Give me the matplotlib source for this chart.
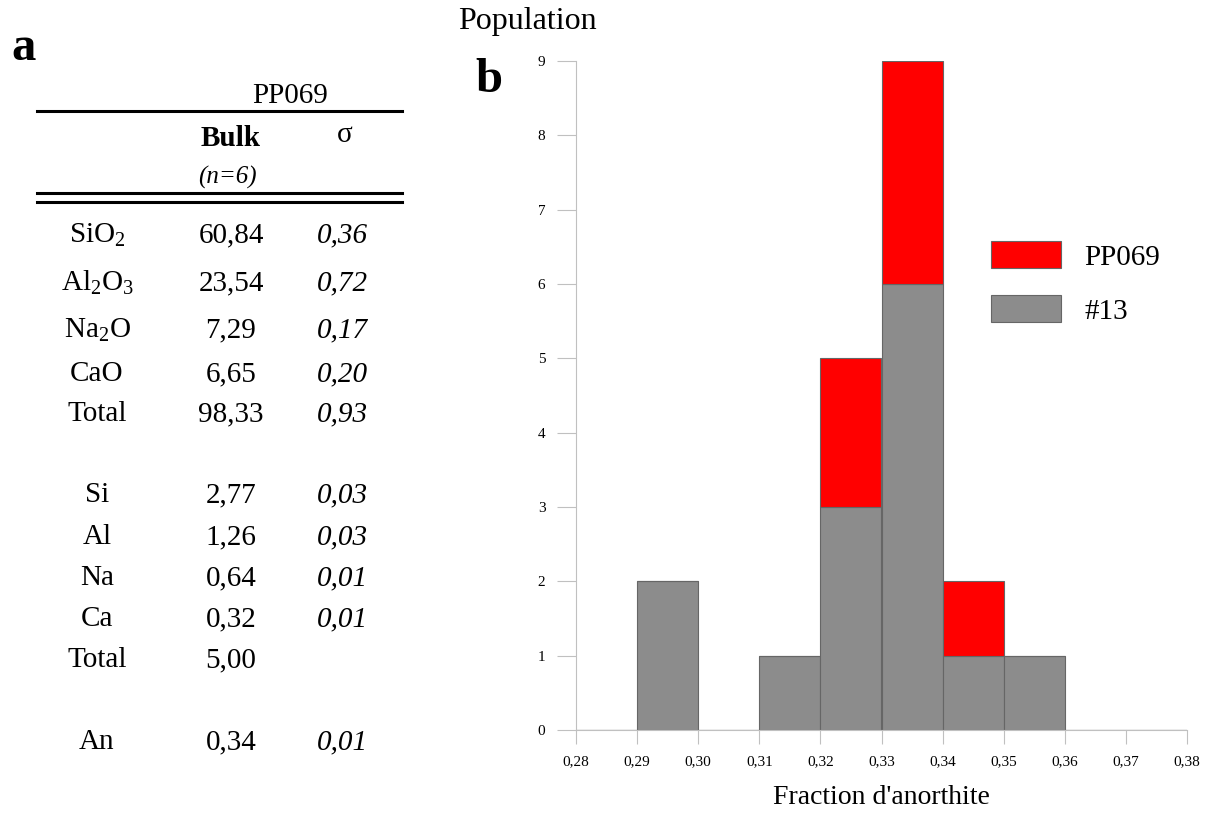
import matplotlib
matplotlib.use("Agg")
import matplotlib.pyplot as plt
from matplotlib.lines import Line2D
from matplotlib.ticker import FuncFormatter

plt.rcParams['font.family'] = ['Liberation Serif', 'DejaVu Serif']
plt.rcParams['mathtext.default'] = 'regular'

# histogram data (bins of width 0.01)
bin_left = [0.28, 0.29, 0.30, 0.31, 0.32, 0.33, 0.34, 0.35, 0.36, 0.37]
count_13 = [0, 2, 0, 1, 3, 6, 1, 1, 0, 0]
count_pp069 = [0, 0, 0, 0, 2, 3, 1, 0, 0, 0]

# table data (panel a)
oxide_names = ["SiO$_2$", "Al$_2$O$_3$", "Na$_2$O", "CaO", "Total"]
oxide_bulk = [60.84, 23.54, 7.29, 6.65, 98.33]
oxide_sigma = [0.36, 0.72, 0.17, 0.20, 0.93]
cation_names = ["Si", "Al", "Na", "Ca", "Total"]
cation_bulk = [2.77, 1.26, 0.64, 0.32, 5.00]
cation_sigma = [0.03, 0.03, 0.01, 0.01, None]
an_bulk = 0.34
an_sigma = 0.01

W, H = 1206, 816
FS = 21  # table font size


def fx(x):
    return x / W


def fy(y):
    return 1 - y / H


def fmt(v):
    return "" if v is None else f"{v:.2f}".replace(".", ",")


fig = plt.figure(figsize=(W / 100, H / 100), dpi=100)

# ---- panel a : table ----
fig.text(fx(11), fy(48), "a", fontsize=35, fontweight='bold', va='center', ha='left')
fig.text(fx(290), fy(96), "PP069", fontsize=FS, ha='center', va='center')
fig.add_artist(Line2D([fx(37), fx(402)], [fy(111), fy(111)], color='black', lw=2.2,
                      transform=fig.transFigure))
fig.text(fx(231), fy(138), "Bulk", fontsize=FS, fontweight='bold', ha='center', va='center')
fig.text(fx(345), fy(135), "σ", fontsize=FS, ha='center', va='center')
fig.text(fx(227), fy(177), "(n=6)", fontsize=18, style='italic', ha='center', va='center')
for yy in (193, 202):
    fig.add_artist(Line2D([fx(37), fx(402)], [fy(yy), fy(yy)], color='black', lw=2.2,
                          transform=fig.transFigure))

col_name, col_bulk, col_sig = 97, 231, 342
oxide_rows = [235, 283, 330, 374, 414]
for y, n, b, s in zip(oxide_rows, oxide_names, oxide_bulk, oxide_sigma):
    fig.text(fx(col_name), fy(y), n, fontsize=FS, ha='center', va='center')
    fig.text(fx(col_bulk), fy(y), fmt(b), fontsize=FS, ha='center', va='center')
    fig.text(fx(col_sig), fy(y), fmt(s), fontsize=FS, style='italic', ha='center', va='center')

cation_rows = [495, 537, 578, 619, 660]
for y, n, b, s in zip(cation_rows, cation_names, cation_bulk, cation_sigma):
    fig.text(fx(col_name), fy(y), n, fontsize=FS, ha='center', va='center')
    fig.text(fx(col_bulk), fy(y), fmt(b), fontsize=FS, ha='center', va='center')
    fig.text(fx(col_sig), fy(y), fmt(s), fontsize=FS, style='italic', ha='center', va='center')

fig.text(fx(col_name), fy(742), "An", fontsize=FS, ha='center', va='center')
fig.text(fx(col_bulk), fy(742), fmt(an_bulk), fontsize=FS, ha='center', va='center')
fig.text(fx(col_sig), fy(742), fmt(an_sigma), fontsize=FS, style='italic', ha='center', va='center')

# ---- panel b : histogram ----
fig.text(fx(475), fy(80), "b", fontsize=35, fontweight='bold', va='center', ha='left')

ax_l, ax_r, ax_b, ax_t = 576, 1187, 730, 61
ax = fig.add_axes([fx(ax_l), fy(ax_b), fx(ax_r - ax_l), (ax_b - ax_t) / H])
ax.bar(bin_left, count_13, width=0.01, align='edge', color='#8c8c8c',
       edgecolor='#666666', linewidth=0.8, label='#13')
ax.bar(bin_left, count_pp069, width=0.01, align='edge', bottom=count_13,
       color='#ff0000', edgecolor='#666666', linewidth=0.8, label='PP069')

ax.set_xlim(0.28, 0.38)
ax.set_ylim(0, 9)
ax.set_xticks([0.28 + 0.01 * i for i in range(11)])
ax.set_yticks(range(10))
ax.xaxis.set_major_formatter(FuncFormatter(lambda v, p: f"{v:.2f}".replace(".", ",")))

for side in ('top', 'right'):
    ax.spines[side].set_visible(False)
ax.spines['left'].set_color('#c0c0c0')
ax.spines['bottom'].set_color('#c0c0c0')
ax.tick_params(axis='y', length=14, color='#c0c0c0', labelsize=11, pad=8)
ax.tick_params(axis='x', length=10, color='#c0c0c0', labelsize=11, pad=8)

ax.set_xlabel("Fraction d'anorthite", fontsize=20, labelpad=12)
fig.text(fx(527), fy(22), "Population", fontsize=23, ha='center', va='center')

handles, labels = ax.get_legend_handles_labels()
ax.legend(handles[::-1], labels[::-1], loc='center left',
          bbox_to_anchor=((991 - ax_l) / (ax_r - ax_l), (ax_b - 283) / (ax_b - ax_t)),
          frameon=False, fontsize=21, handlelength=2.4, handleheight=1.05,
          labelspacing=0.85, handletextpad=0.8, borderpad=0, borderaxespad=0)

fig.savefig("out.png", dpi=100, facecolor='white')
